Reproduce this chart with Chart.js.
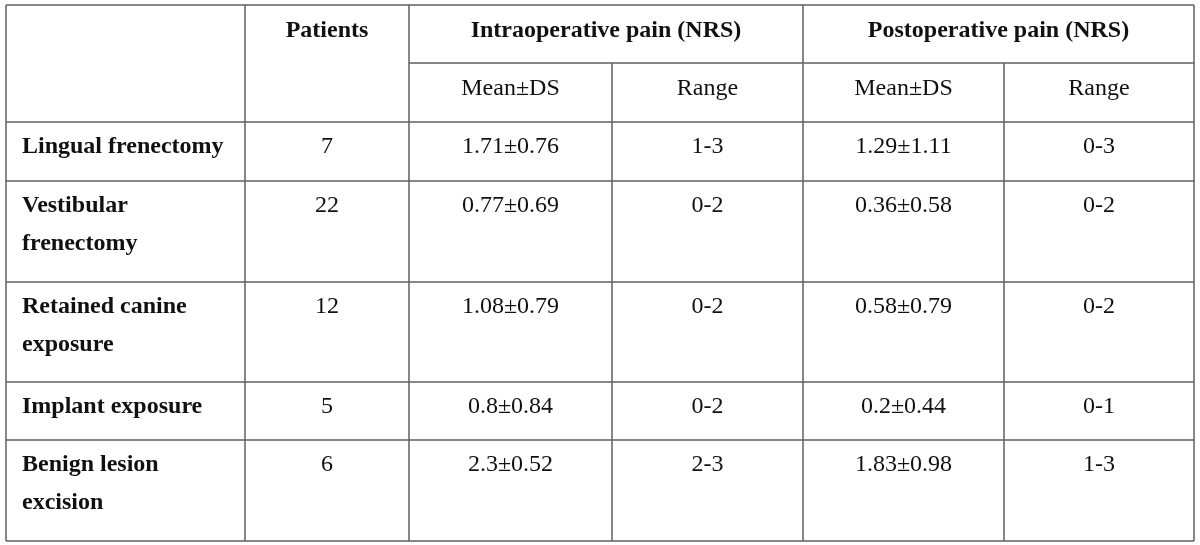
<!DOCTYPE html>
<html>
<head>
<meta charset="utf-8">
<script src="https://cdn.jsdelivr.net/npm/chart.js@4.4.1/dist/chart.umd.min.js"></script>
<style>
html,body{margin:0;padding:0;background:#fff;}
#wrap{width:1200px;height:545px;}
</style>
</head>
<body>
<div id="wrap"><canvas id="c" width="1200" height="545"></canvas></div>
<script>
// ---- data ----
const procedures = ["Lingual frenectomy", "Vestibular\nfrenectomy", "Retained canine\nexposure", "Implant exposure", "Benign lesion\nexcision"];
const patients = [7, 22, 12, 5, 6];
const intraMean = [1.71, 0.77, 1.08, 0.8, 2.3];
const intraSD = [0.76, 0.69, 0.79, 0.84, 0.52];
const intraMin = [1, 0, 0, 0, 2];
const intraMax = [3, 2, 2, 2, 3];
const postMean = [1.29, 0.36, 0.58, 0.2, 1.83];
const postSD = [1.11, 0.58, 0.79, 0.44, 0.98];
const postMin = [0, 0, 0, 0, 1];
const postMax = [3, 2, 2, 1, 3];
const headerTop = ["Patients", "Intraoperative pain (NRS)", "Postoperative pain (NRS)"];
const headerSub = ["Mean±DS", "Range", "Mean±DS", "Range"];

// ---- layout (in scale units) ----
const colX = [6, 245, 409, 612, 803, 1004, 1194];
const rowY = [5, 63, 122, 181, 282, 382, 440, 541];
const FONT = '"Liberation Serif", "Times New Roman", serif';
const FS = 24, BASE = 31, LINE = 38;
const lineColor = '#5f5f5f';

const tablePlugin = {
  id: 'table',
  afterDraw(chart) {
    const ctx = chart.ctx;
    const xs = chart.scales.x, ys = chart.scales.y;
    const X = v => xs.getPixelForValue(v);
    const Y = v => ys.getPixelForValue(v);
    ctx.save();
    ctx.strokeStyle = lineColor;
    ctx.lineWidth = 1.5;
    function hl(y, x0, x1) { ctx.beginPath(); ctx.moveTo(X(x0), Y(y)); ctx.lineTo(X(x1), Y(y)); ctx.stroke(); }
    function vl(x, y0, y1) { ctx.beginPath(); ctx.moveTo(X(x), Y(y0)); ctx.lineTo(X(x), Y(y1)); ctx.stroke(); }
    const L = colX[0], R = colX[6], T = rowY[0], B = rowY[7];
    // outer border
    hl(T, L, R); hl(B, L, R); vl(L, T, B); vl(R, T, B);
    // header sub line
    hl(rowY[1], colX[2], R);
    for (let i = 2; i < 7; i++) hl(rowY[i], L, R);
    vl(colX[1], T, B); vl(colX[2], T, B); vl(colX[4], T, B);
    vl(colX[3], rowY[1], B); vl(colX[5], rowY[1], B);

    ctx.fillStyle = '#111';
    ctx.textBaseline = 'alphabetic';
    function txt(s, x, y, bold, align) {
      ctx.font = (bold ? 'bold ' : '') + FS + 'px ' + FONT;
      ctx.textAlign = align || 'center';
      ctx.fillText(s, X(x), Y(y));
    }
    // header
    txt(headerTop[0], (colX[1] + colX[2]) / 2, T + BASE + 1, true);
    txt(headerTop[1], (colX[2] + colX[4]) / 2, T + BASE + 1, true);
    txt(headerTop[2], (colX[4] + colX[6]) / 2, T + BASE + 1, true);
    for (let j = 0; j < 4; j++) {
      txt(headerSub[j], (colX[2 + j] + colX[3 + j]) / 2, rowY[1] + BASE + 1, false);
    }
    // body
    for (let i = 0; i < procedures.length; i++) {
      const top = rowY[2 + i];
      const lines = procedures[i].split('\n');
      lines.forEach((ln, k) => txt(ln, L + 16, top + BASE + k * LINE, true, 'left'));
      const vals = [
        String(patients[i]),
        intraMean[i] + '±' + intraSD[i],
        intraMin[i] + '-' + intraMax[i],
        postMean[i] + '±' + postSD[i],
        postMin[i] + '-' + postMax[i]
      ];
      vals.forEach((v, j) => txt(v, (colX[1 + j] + colX[2 + j]) / 2, top + BASE, false));
    }
    ctx.restore();
  }
};

new Chart(document.getElementById('c'), {
  type: 'scatter',
  data: { datasets: [{ data: [], pointRadius: 0 }] },
  options: {
    responsive: false,
    animation: false,
    layout: { padding: 0 },
    plugins: { legend: { display: false }, tooltip: { enabled: false } },
    scales: {
      x: { type: 'linear', min: 0, max: 1200, display: false },
      y: { type: 'linear', min: 0, max: 545, reverse: true, display: false }
    }
  },
  plugins: [tablePlugin]
});
</script>
</body>
</html>
